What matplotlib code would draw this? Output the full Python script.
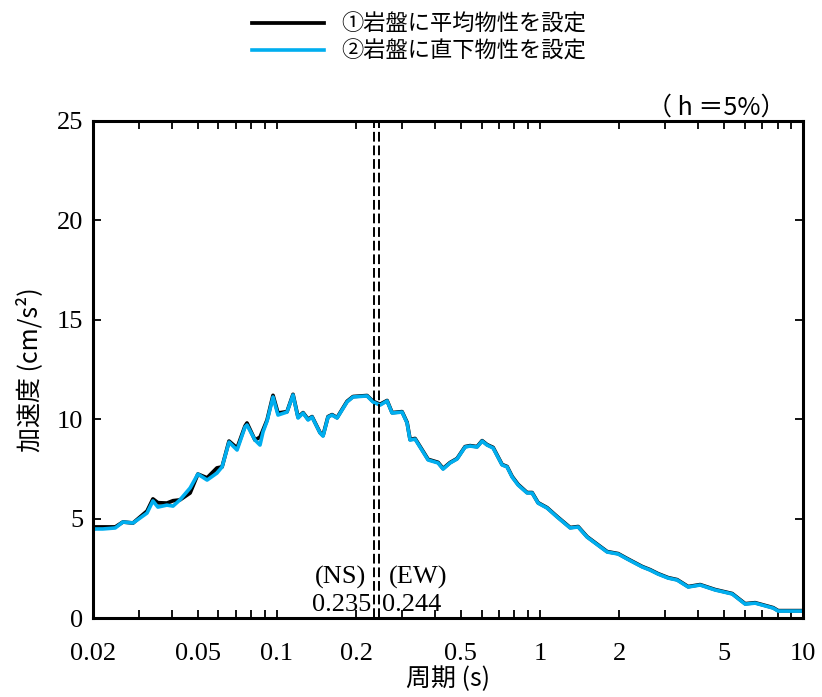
import numpy as np
import matplotlib
matplotlib.use("Agg")
import matplotlib.pyplot as plt
from matplotlib.ticker import FixedLocator, LogLocator, NullFormatter

# period (s)
period = [0.0200, 0.0204, 0.0218, 0.0243, 0.0260, 0.0284, 0.0321, 0.0338, 0.0353, 0.0382,
          0.0403, 0.0428, 0.0468, 0.0501, 0.0543, 0.0592, 0.0619, 0.0658, 0.0706, 0.0757,
          0.0770, 0.0826, 0.0863, 0.0886, 0.0918, 0.0967, 0.1010, 0.1093, 0.1152, 0.1204,
          0.1258, 0.1314, 0.1361, 0.1459, 0.1498, 0.1565, 0.1621, 0.1694, 0.1849, 0.1948,
          0.2202, 0.2320, 0.2468, 0.2624, 0.2742, 0.2992, 0.3126, 0.3209, 0.3353, 0.3757,
          0.4100, 0.4284, 0.4555, 0.4842, 0.5193, 0.5427, 0.5769, 0.6028, 0.6298, 0.6638,
          0.7181, 0.7502, 0.7840, 0.8260, 0.8938, 0.9338, 0.9840, 1.065, 1.163, 1.303,
          1.397, 1.511, 1.801, 1.983, 2.145, 2.447, 2.624, 2.813, 3.071, 3.323,
          3.660, 4.064, 4.634, 5.380, 6.028, 6.578, 7.702, 8.047, 8.938, 10.0]

# (2) direct-below properties (blue)
acc_direct = [4.43, 4.48, 4.48, 4.53, 4.83, 4.78, 5.28, 5.89, 5.58, 5.68,
              5.63, 5.94, 6.54, 7.24, 6.94, 7.29, 7.60, 8.85, 8.45, 9.61,
              9.71, 8.95, 8.70, 9.36, 9.91, 11.12, 10.21, 10.36, 11.22, 10.06,
              10.31, 9.96, 10.11, 9.31, 9.15, 10.11, 10.21, 10.06, 10.87, 11.12,
              11.17, 10.87, 10.71, 10.92, 10.31, 10.36, 9.81, 8.95, 9.00, 7.95,
              7.80, 7.49, 7.80, 8.00, 8.60, 8.65, 8.60, 8.90, 8.70, 8.55,
              7.70, 7.60, 7.09, 6.69, 6.29, 6.29, 5.78, 5.53, 5.08, 4.53,
              4.58, 4.07, 3.32, 3.22, 2.97, 2.57, 2.41, 2.21, 2.01, 1.91,
              1.56, 1.66, 1.41, 1.21, 0.70, 0.75, 0.50, 0.35, 0.35, 0.35]

# (1) average properties (black)
acc_avg = [4.58, 4.58, 4.58, 4.58, 4.83, 4.78, 5.38, 5.99, 5.80, 5.78,
           5.90, 5.94, 6.29, 7.24, 7.05, 7.55, 7.60, 8.90, 8.55, 9.66,
           9.81, 8.95, 9.10, 9.46, 9.96, 11.20, 10.31, 10.38, 11.25, 10.10,
           10.33, 10.00, 10.13, 9.33, 9.18, 10.13, 10.23, 10.08, 10.90, 11.14,
           11.19, 10.90, 10.75, 10.94, 10.33, 10.38, 9.84, 8.98, 9.03, 7.98,
           7.83, 7.52, 7.82, 8.02, 8.62, 8.67, 8.62, 8.92, 8.72, 8.58,
           7.72, 7.62, 7.12, 6.72, 6.31, 6.31, 5.80, 5.55, 5.10, 4.55,
           4.60, 4.09, 3.34, 3.24, 2.99, 2.59, 2.43, 2.23, 2.03, 1.93,
           1.58, 1.68, 1.43, 1.23, 0.72, 0.77, 0.52, 0.37, 0.37, 0.37]

peak_ns = 0.235
peak_ew = 0.244

xticks = [0.02, 0.05, 0.1, 0.2, 0.5, 1, 2, 5, 10]
xticklabels = ["0.02", "0.05", "0.1", "0.2", "0.5", "1", "2", "5", "10"]
yticks = [0, 5, 10, 15, 20, 25]

jp = ["Noto Sans CJK JP", "DejaVu Sans"]
num = "Liberation Serif"

fig = plt.figure(figsize=(8.22, 6.97), dpi=100)
ax = fig.add_axes([0.1131, 0.1133, 0.8638, 0.7131])

l1, = ax.plot(period, acc_avg, color="black", lw=2.7, label="①岩盤に平均物性を設定")
l2, = ax.plot(period, acc_direct, color="#00aeef", lw=2.6, label="②岩盤に直下物性を設定")

ax.axvline(peak_ns, color="black", lw=1.4, ls=(0, (5, 2)))
ax.axvline(peak_ew, color="black", lw=1.4, ls=(0, (5, 2)))

ax.set_xscale("log")
ax.set_xlim(0.02, 10)
ax.set_ylim(0, 25)
ax.xaxis.set_major_locator(FixedLocator(xticks))
ax.set_xticklabels(xticklabels, fontfamily=num, fontsize=19)
ax.xaxis.set_minor_locator(LogLocator(base=10, subs=np.arange(2, 10)))
ax.xaxis.set_minor_formatter(NullFormatter())
ax.set_yticks(yticks)
ax.set_yticklabels([str(v) for v in yticks], fontfamily=num, fontsize=19)

ax.tick_params(which="both", direction="in", top=True, right=True, width=1.3)
ax.tick_params(axis="x", which="major", length=6, pad=18)
ax.tick_params(axis="x", which="minor", length=6)
ax.tick_params(axis="y", which="major", length=6, pad=7)
for s in ax.spines.values():
    s.set_linewidth(2.2)

ax.set_xlabel("周期 (s)", fontfamily=jp, fontsize=18, labelpad=1)
ax.set_ylabel("加速度 (cm/s²)", fontfamily=jp, fontsize=18, labelpad=10)

ax.text(peak_ns * 0.93, 1.45, "(NS)", ha="right", va="bottom", fontfamily=num, fontsize=19)
ax.text(peak_ns * 0.97, 0.1, "0.235", ha="right", va="bottom", fontfamily=num, fontsize=19)
ax.text(peak_ew * 1.09, 1.45, "(EW)", ha="left", va="bottom", fontfamily=num, fontsize=19)
ax.text(peak_ew * 1.03, 0.1, "0.244", ha="left", va="bottom", fontfamily=num, fontsize=19)

ax.text(0.975, 1.0, "（ h ＝5%）", transform=ax.transAxes, ha="right", va="bottom",
        fontfamily=jp, fontsize=18)

fig.legend(handles=[l1, l2], loc="upper center", bbox_to_anchor=(0.51, 1.01),
           frameon=False, prop={"family": jp, "size": 16}, handlelength=3.2,
           labelspacing=0.15, handletextpad=0.8)

fig.savefig("out.png", dpi=100)
